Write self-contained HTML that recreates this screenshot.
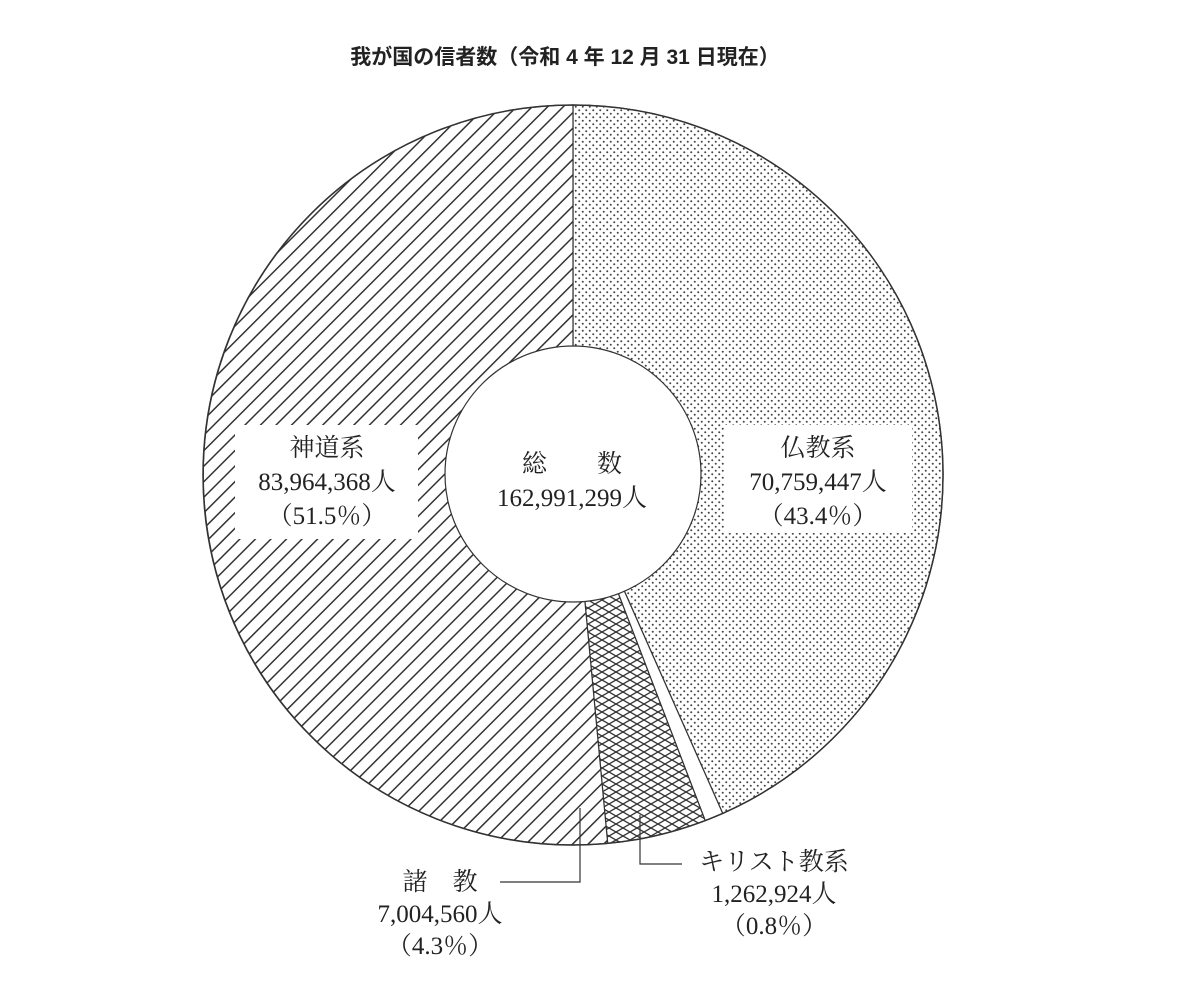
<!DOCTYPE html>
<html><head><meta charset="utf-8"><style>
body{margin:0;background:#fff;width:1188px;height:980px;overflow:hidden}
svg text{font-family:"Liberation Serif","Noto Serif CJK SC",serif;fill:#222}
</style></head><body>
<svg width="1188" height="980" xmlns="http://www.w3.org/2000/svg">
<defs>
<pattern id="hatch" patternUnits="userSpaceOnUse" width="11" height="11" patternTransform="rotate(45)">
<rect width="11" height="11" fill="#fff"/><line x1="0" y1="0" x2="0" y2="11" stroke="#333" stroke-width="3"/></pattern>
<pattern id="dots" patternUnits="userSpaceOnUse" width="7" height="7">
<rect width="7" height="7" fill="#fff"/><circle cx="1.75" cy="1.75" r="1" fill="#444"/><circle cx="5.25" cy="5.25" r="1" fill="#444"/></pattern>
<pattern id="cross" patternUnits="userSpaceOnUse" width="14" height="8">
<rect width="14" height="8" fill="#fff"/><path d="M0 0L14 8M0 8L14 0" stroke="#333" stroke-width="1.3"/></pattern>
</defs>
<text x="565" y="64" text-anchor="middle" font-size="21" font-weight="bold" style="font-family:'Liberation Sans','Noto Sans CJK JP',sans-serif">我が国の信者数（令和 4 年 12 月 31 日現在）</text>
<path d="M573 475 L573 105 A370 370 0 0 1 722.7 813.4 Z" fill="url(#dots)" stroke="#333" stroke-width="1.2"/>
<path d="M573 475 L722.7 813.4 A370 370 0 0 1 705.2 820.6 Z" fill="#fff" stroke="#333" stroke-width="1.2"/>
<path d="M573 475 L705.2 820.6 A370 370 0 0 1 607.7 843.4 Z" fill="url(#cross)" stroke="#333" stroke-width="1.2"/>
<path d="M573 475 L607.7 843.4 A370 370 0 1 1 573 105 Z" fill="url(#hatch)" stroke="#333" stroke-width="1.2"/>
<circle cx="573" cy="475" r="370" fill="none" stroke="#333" stroke-width="1.5"/>
<circle cx="573" cy="474" r="128" fill="#fff" stroke="#333" stroke-width="1.2"/>
<rect x="235" y="425" width="183" height="114" fill="#fff"/>
<rect x="724" y="425" width="188" height="108" fill="#fff"/>
<g font-size="25" text-anchor="middle">
<text x="572" y="472">総　　数</text>
<text x="572" y="506">162,991,299人</text>
<text x="327" y="456">神道系</text>
<text x="327" y="490">83,964,368人</text>
<text x="327" y="524">（51.5％）</text>
<text x="818" y="456">仏教系</text>
<text x="818" y="490">70,759,447人</text>
<text x="818" y="524">（43.4％）</text>
<text x="440" y="890">諸　教</text>
<text x="440" y="922">7,004,560人</text>
<text x="440" y="954">（4.3％）</text>
<text x="774" y="870">キリスト教系</text>
<text x="774" y="902">1,262,924人</text>
<text x="774" y="934">（0.8％）</text>
</g>
<path d="M580 808 V882 H500" fill="none" stroke="#333" stroke-width="1.2"/>
<path d="M640 815 V864 H682" fill="none" stroke="#333" stroke-width="1.2"/>
</svg>
</body></html>
